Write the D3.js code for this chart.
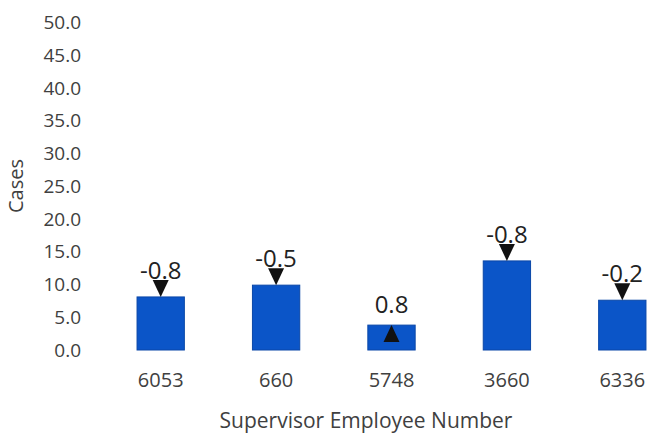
<!DOCTYPE html>
<html>
<head>
<meta charset="utf-8">
<script src="https://cdn.jsdelivr.net/npm/d3@7"></script>
<style>
  body { margin: 0; background: #fff; }
  svg text { font-family: "Open Sans", sans-serif; }
</style>
</head>
<body>
<div id="chart"></div>
<script>
// chart data
const supervisors = ["6053", "660", "5748", "3660", "6336"]
const cases = [8.1, 9.9, 3.8, 13.6, 7.6]
const changes = [-0.8, -0.5, 0.8, -0.8, -0.2]
const yTicks = [0, 5, 10, 15, 20, 25, 30, 35, 40, 45, 50]

const width = 648
const height = 437

const svg = d3.select("#chart").append("svg")
  .attr("width", width)
  .attr("height", height)

const x = d3.scaleBand()
  .domain(supervisors)
  .range([103, 680])
  .paddingInner(0.59)
  .paddingOuter(0.295)

const y = d3.scaleLinear()
  .domain([0, 50])
  .range([350, 22.5])

// plain hyphen minus, like the original
const fmt = v => d3.format(".1f")(v).replace("\u2212", "-")

// y tick labels (no axis line)
const yAxis = svg.append("g")
  .attr("transform", "translate(81,0)")
  .call(d3.axisLeft(y).tickValues(yTicks).tickFormat(fmt).tickSize(0).tickPadding(0))
yAxis.select(".domain").remove()
yAxis.selectAll("text")
  .attr("font-size", 19)
  .attr("fill", "#404040")
  .attr("font-family", "Open Sans, sans-serif")

// x tick labels
const xAxis = svg.append("g")
  .attr("transform", "translate(0,373)")
  .call(d3.axisBottom(x).tickSize(0).tickPadding(0))
xAxis.select(".domain").remove()
xAxis.selectAll("text")
  .attr("font-size", 20)
  .attr("fill", "#404040")
  .attr("font-family", "Open Sans, sans-serif")

// axis titles
svg.append("text")
  .attr("x", 366)
  .attr("y", 428)
  .attr("text-anchor", "middle")
  .attr("font-size", 21)
  .attr("fill", "#404040")
  .text("Supervisor Employee Number")

svg.append("text")
  .attr("transform", "translate(23,186) rotate(-90)")
  .attr("text-anchor", "middle")
  .attr("font-size", 20)
  .attr("fill", "#404040")
  .text("Cases")

const data = supervisors.map((s, i) => ({ id: s, value: cases[i], change: changes[i] }))

// bars
svg.selectAll("rect.bar")
  .data(data)
  .join("rect")
  .attr("class", "bar")
  .attr("x", d => x(d.id))
  .attr("y", d => y(d.value))
  .attr("width", x.bandwidth())
  .attr("height", d => y(0) - y(d.value))
  .attr("fill", "#0b55c8")
  .attr("stroke", "#0a47a8")
  .attr("stroke-width", 1)

// up / down markers: tip touches the top of the bar
const triW = 16
const triH = 17
svg.selectAll("path.marker")
  .data(data)
  .join("path")
  .attr("class", "marker")
  .attr("d", d => {
    const cx = x(d.id) + x.bandwidth() / 2
    const top = y(d.value)
    if (d.change < 0) {
      return `M${cx - triW / 2},${top - triH}L${cx + triW / 2},${top - triH}L${cx},${top}Z`
    }
    return `M${cx},${top}L${cx + triW / 2},${top + triH}L${cx - triW / 2},${top + triH}Z`
  })
  .attr("fill", "#111")

// change labels
svg.selectAll("text.change")
  .data(data)
  .join("text")
  .attr("class", "change")
  .attr("x", d => x(d.id) + x.bandwidth() / 2)
  .attr("y", d => y(d.value) - (d.change < 0 ? 18 : 12))
  .attr("text-anchor", "middle")
  .attr("font-size", 24)
  .attr("fill", "#222")
  .text(d => fmt(d.change))
</script>
</body>
</html>
